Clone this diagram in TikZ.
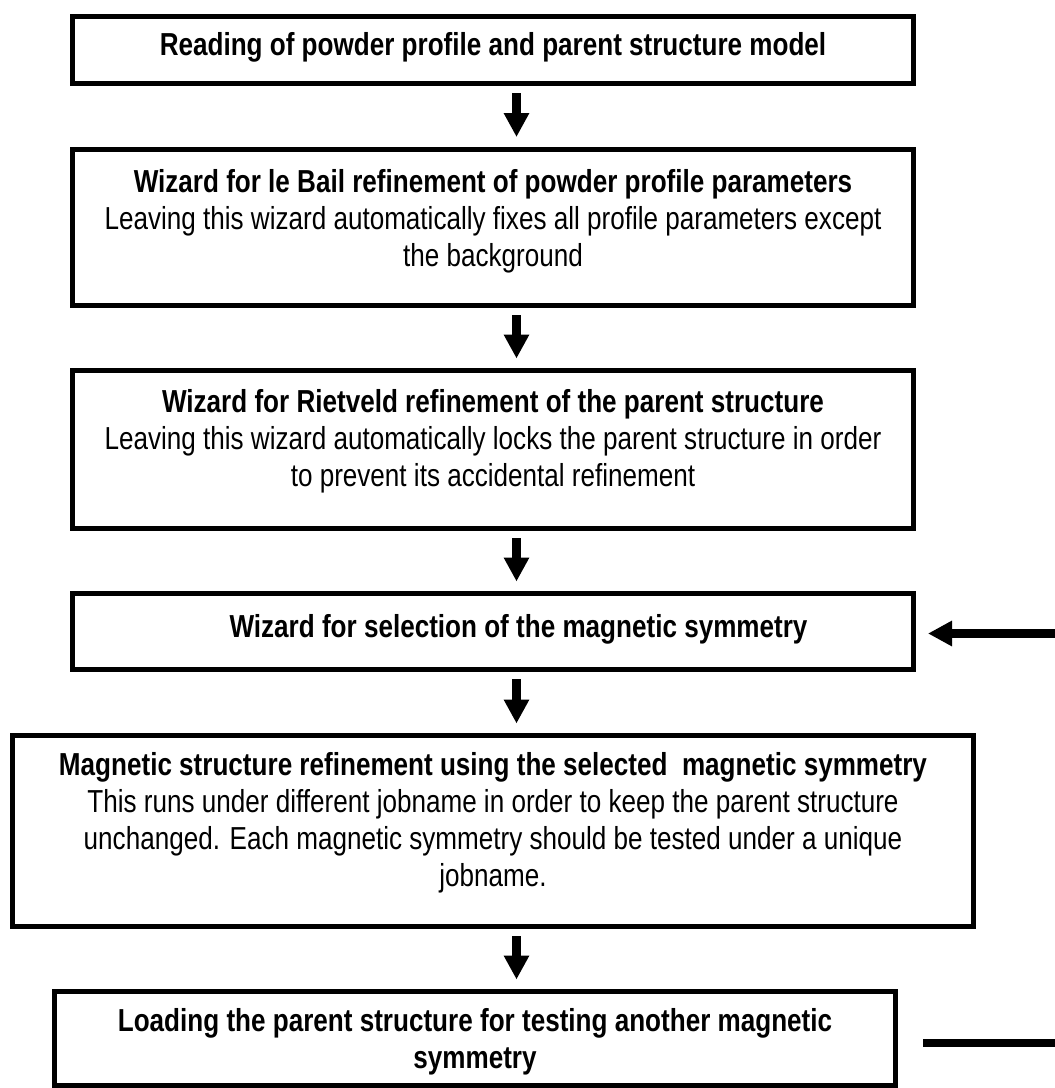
\documentclass[tikz,border=0pt]{standalone}
\usepackage{fontspec}
\setmainfont{Liberation Sans}[FakeStretch=0.82]
\usetikzlibrary{arrows.meta,calc}
\begin{document}
\begin{tikzpicture}[x=1pt,y=-1pt,
  box/.style={draw, line width=5pt, rectangle, inner sep=0pt, outer sep=0pt},
  txt/.style={anchor=north, inner sep=0pt, outer sep=0pt, align=center, font=\fontsize{31.8}{37}\selectfont},
  flow/.style={line width=9pt, -{Triangle[length=24pt,width=24pt]}},
  bar/.style={line width=8pt}]
\useasboundingbox (0,0) rectangle (1055,1088);

\node[box, minimum width=841pt, minimum height=67pt]    (b1) at (493,50) {};
\node[box, minimum width=841pt, minimum height=156.5pt] (b2) at (493,227.25) {};
\node[box, minimum width=841pt, minimum height=158pt]   (b3) at (493,449.5) {};
\node[box, minimum width=841pt, minimum height=76pt]    (b4) at (493,631.5) {};
\node[box, minimum width=961pt, minimum height=191pt]   (b5) at (493,831) {};
\node[box, minimum width=841pt, minimum height=94pt]    (b6) at (475,1038.5) {};

\node[txt] (t1) at (493,32) {\textbf{Reading of powder profile and parent structure model}};
\node[txt] (t2) at (493,169) {\textbf{Wizard for le Bail refinement of powder profile parameters}\\
  Leaving this wizard automatically fixes all profile parameters except\\
  the background};
\node[txt] (t3) at (493,389) {\textbf{Wizard for Rietveld refinement of the parent structure}\\
  Leaving this wizard automatically locks the parent structure in order\\
  to prevent its accidental refinement};
\node[txt] (t4) at (518.5,614) {\textbf{Wizard for selection of the magnetic symmetry}};
\node[txt] (t5) at (493,752) {\textbf{Magnetic structure refinement using the selected\ \ magnetic symmetry}\\
  This runs under different jobname in order to keep the parent structure\\
  unchanged. Each magnetic symmetry should be tested under a unique\\
  jobname.};
\node[txt] (t6) at (475,1008) {\textbf{Loading the parent structure for testing another magnetic}\\
  \textbf{symmetry}};

\draw[flow] ($(b1.south)+(23.5,9.5)$) -- ($(b2.north)+(23.5,-12)$);
\draw[flow] ($(b2.south)+(23.5,9.5)$) -- ($(b3.north)+(23.5,-12)$);
\draw[flow] ($(b3.south)+(23.5,9.5)$) -- ($(b4.north)+(23.5,-12)$);
\draw[flow] ($(b4.south)+(23.5,9.5)$) -- ($(b5.north)+(23.5,-12)$);
\draw[flow] ($(b5.south)+(23.5,9.5)$) -- ($(b6.north)+(41.5,-12)$);

\coordinate (in4) at (1055,633.5);
\draw[flow] (in4) -- ($(b4.east)+(14.5,2)$);
\coordinate (out6) at (1055,1043);
\draw[bar] ($(b6.east)+(27.5,4.5)$) -- (out6);
\end{tikzpicture}
\end{document}
